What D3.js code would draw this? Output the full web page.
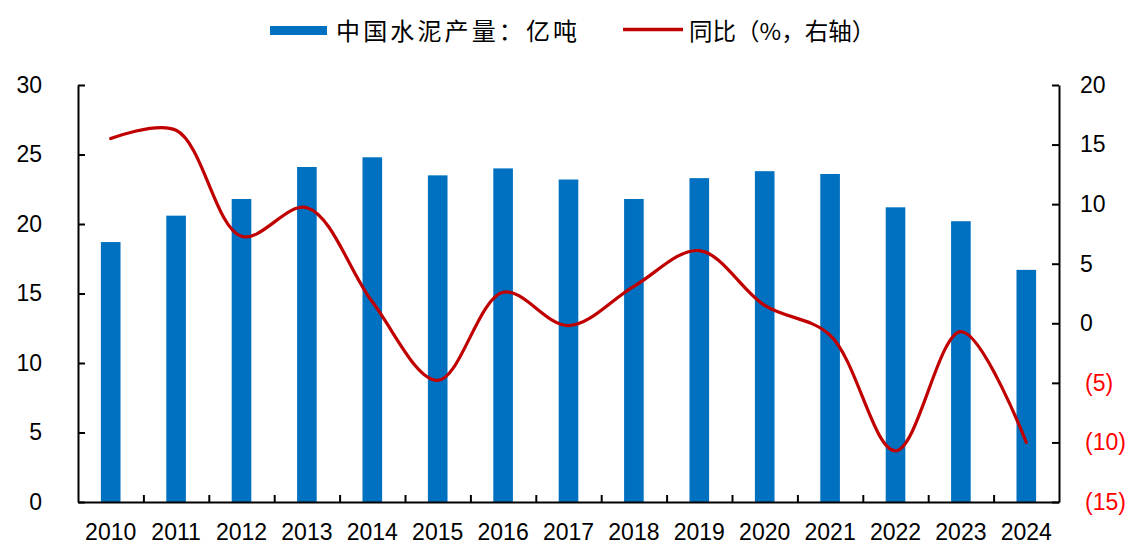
<!DOCTYPE html>
<html><head><meta charset="utf-8">
<script src="https://cdn.jsdelivr.net/npm/d3@7"></script>
<style>
html,body{margin:0;padding:0;background:#fff;}
svg{display:block;}
</style></head>
<body>
<svg id="chart" width="1137" height="558"></svg>
<script>
const years = ["2010","2011","2012","2013","2014","2015","2016","2017","2018","2019","2020","2021","2022","2023","2024"];
const output = [18.7, 20.6, 21.8, 24.1, 24.8, 23.5, 24.0, 23.2, 21.8, 23.3, 23.8, 23.6, 21.2, 20.2, 16.7];
const yoy = [15.5, 16.2, 7.3, 9.7, 1.8, -4.8, 2.6, -0.2, 3.1, 6.1, 1.5, -1.0, -10.7, -0.7, -10.0];
const leftTicks = [0, 5, 10, 15, 20, 25, 30];
const rightTicks = [-15, -10, -5, 0, 5, 10, 15, 20];
const legendLabels = ["中国水泥产量：亿吨", "同比（%，右轴）"];

const svg = d3.select("#chart");
const L = 78, R = 1059, T = 85, B = 502;
const blue = "#0070C0", red = "#C00000";
const numFont = "'Liberation Sans', Arial, sans-serif";
const cjkFont = "'Noto Sans CJK SC', 'Noto Sans', sans-serif";

const x = d3.scaleBand().domain(years).range([L, R]).paddingInner(0.7).paddingOuter(0.35);
const xi = d3.scaleLinear().domain([0, years.length]).range([L, R]);
const yL = d3.scaleLinear().domain([0, 30]).range([B, T]);
const yR = d3.scaleLinear().domain([-15, 20]).range([B, T]);

// bars
svg.append("g").selectAll("rect").data(years).join("rect")
  .attr("x", d => x(d)).attr("width", x.bandwidth())
  .attr("y", (d, i) => yL(output[i])).attr("height", (d, i) => yL(0) - yL(output[i]))
  .attr("fill", blue);

// line
const line = d3.line()
  .x((d, i) => x(years[i]) + x.bandwidth() / 2)
  .y(d => yR(d))
  .curve(d3.curveCatmullRom.alpha(0.5));
svg.append("path").datum(yoy).attr("d", line)
  .attr("fill", "none").attr("stroke", red).attr("stroke-width", 3.2)
  .attr("stroke-linecap", "round").attr("stroke-linejoin", "round");

// left axis
const gL = svg.append("g").attr("transform", `translate(${L},0)`)
  .call(d3.axisLeft(yL).tickValues(leftTicks).tickSizeInner(-7).tickSizeOuter(0).tickPadding(36));
// right axis
const gR = svg.append("g").attr("transform", `translate(${R},0)`)
  .call(d3.axisRight(yR).tickValues(rightTicks).tickSizeInner(-7).tickSizeOuter(0).tickPadding(21)
    .tickFormat(d => d < 0 ? `(${-d})` : d));
gR.selectAll(".tick text").filter(d => d < 0).attr("fill", "#FF0000").attr("dx", 5);
// bottom axis ticks between categories
const gB = svg.append("g").attr("transform", `translate(0,${B})`)
  .call(d3.axisBottom(xi).tickValues(d3.range(1, years.length)).tickSizeInner(-7).tickSizeOuter(0).tickFormat(""));
// bottom labels
const gBL = svg.append("g").attr("transform", `translate(0,${B})`)
  .call(d3.axisBottom(x).tickSize(0).tickPadding(22));
gBL.select(".domain").remove();

[gL, gR, gB].forEach(g => {
  g.select(".domain").attr("stroke", "#000").attr("stroke-width", 2);
  g.selectAll(".tick line").attr("stroke", "#000").attr("stroke-width", 2);
});
[gL, gR, gBL].forEach(g => {
  g.selectAll(".tick text").attr("font-family", numFont).attr("font-size", 23);
});
gL.selectAll(".tick text").attr("fill", "#000");
gR.selectAll(".tick text").filter(d => d >= 0).attr("fill", "#000");
gBL.selectAll(".tick text").attr("fill", "#000");

// legend
const lg = svg.append("g");
lg.append("rect").attr("x", 270).attr("y", 26).attr("width", 57).attr("height", 9).attr("fill", blue);
lg.append("text").attr("x", 336).attr("y", 40).text(legendLabels[0])
  .attr("font-family", cjkFont).attr("font-size", 24).attr("fill", "#000")
  .attr("textLength", 241).attr("lengthAdjust", "spacing");
lg.append("line").attr("x1", 623).attr("x2", 683).attr("y1", 29.5).attr("y2", 29.5)
  .attr("stroke", red).attr("stroke-width", 3.5);
lg.append("text").attr("x", 689).attr("y", 40).text(legendLabels[1])
  .attr("font-family", cjkFont).attr("font-size", 23.5).attr("fill", "#000");
</script>
</body></html>
